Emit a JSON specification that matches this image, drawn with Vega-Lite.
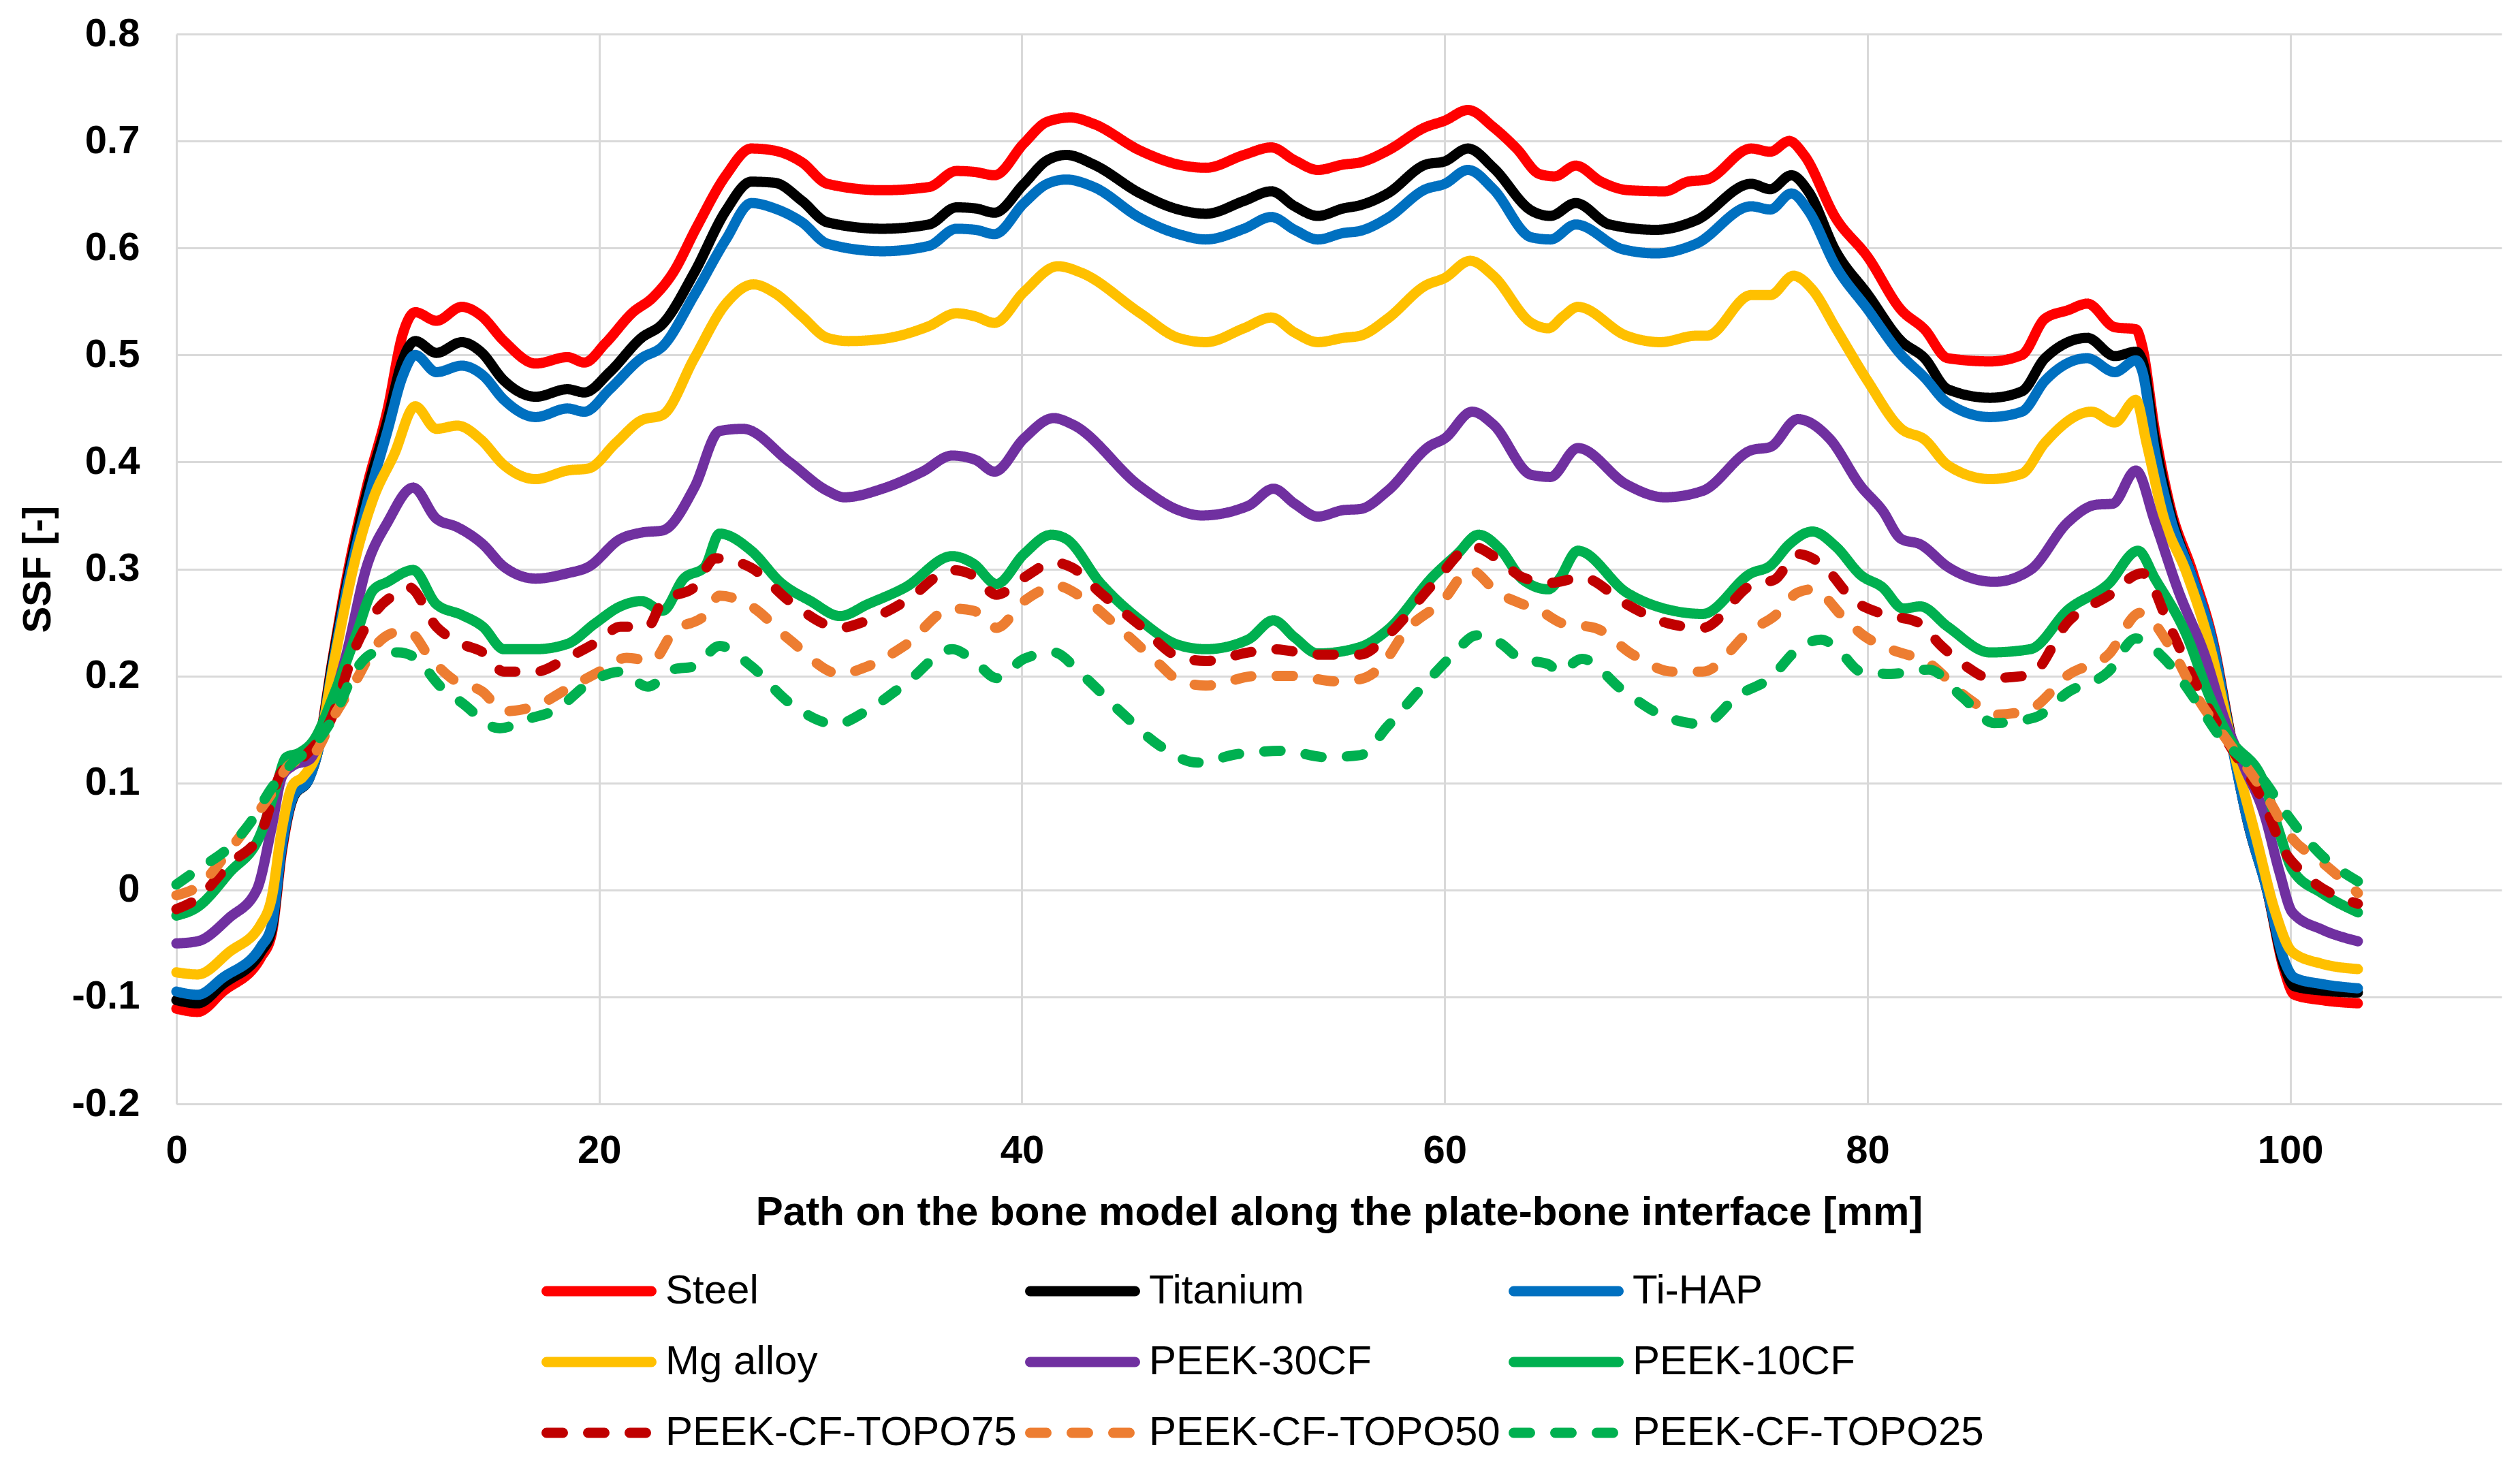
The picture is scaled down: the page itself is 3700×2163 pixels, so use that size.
{
"$schema": "https://vega.github.io/schema/vega-lite/v6.json",
"width": 3414,
"height": 1571,
"autosize": {"type": "none"},
"padding": {"left": 259, "top": 50, "right": 27, "bottom": 542},
"background": "white",
"config": {"view": {"stroke": null}, "font": "Liberation Sans"},
"data": {"values": [
{"s":"Steel","x":0,"y":-0.111},{"s":"Steel","x":1,"y":-0.114},{"s":"Steel","x":2.2,"y":-0.095},{"s":"Steel","x":4,"y":-0.063},{"s":"Steel","x":4.5,"y":-0.042},{"s":"Steel","x":5,"y":0.037},{"s":"Steel","x":5.5,"y":0.085},{"s":"Steel","x":6.3,"y":0.106},{"s":"Steel","x":6.7,"y":0.132},{"s":"Steel","x":7.4,"y":0.217},{"s":"Steel","x":8.1,"y":0.296},{"s":"Steel","x":9,"y":0.376},{"s":"Steel","x":10,"y":0.45},{"s":"Steel","x":10.7,"y":0.519},{"s":"Steel","x":11.3,"y":0.54},{"s":"Steel","x":12.3,"y":0.532},{"s":"Steel","x":13.5,"y":0.545},{"s":"Steel","x":14.4,"y":0.537},{"s":"Steel","x":15.5,"y":0.513},{"s":"Steel","x":17,"y":0.492},{"s":"Steel","x":18.5,"y":0.498},{"s":"Steel","x":19.3,"y":0.493},{"s":"Steel","x":20.3,"y":0.511},{"s":"Steel","x":21.6,"y":0.54},{"s":"Steel","x":22.5,"y":0.553},{"s":"Steel","x":23.5,"y":0.577},{"s":"Steel","x":24.6,"y":0.619},{"s":"Steel","x":26,"y":0.668},{"s":"Steel","x":27.2,"y":0.693},{"s":"Steel","x":28.3,"y":0.691},{"s":"Steel","x":29.6,"y":0.68},{"s":"Steel","x":30.8,"y":0.66},{"s":"Steel","x":33.4,"y":0.654},{"s":"Steel","x":35.6,"y":0.657},{"s":"Steel","x":36.9,"y":0.672},{"s":"Steel","x":37.8,"y":0.671},{"s":"Steel","x":38.7,"y":0.668},{"s":"Steel","x":40.1,"y":0.698},{"s":"Steel","x":41.2,"y":0.718},{"s":"Steel","x":42.3,"y":0.722},{"s":"Steel","x":43.4,"y":0.716},{"s":"Steel","x":45.6,"y":0.691},{"s":"Steel","x":47.4,"y":0.678},{"s":"Steel","x":48.7,"y":0.675},{"s":"Steel","x":50.5,"y":0.687},{"s":"Steel","x":51.8,"y":0.694},{"s":"Steel","x":52.9,"y":0.682},{"s":"Steel","x":54,"y":0.673},{"s":"Steel","x":55.2,"y":0.678},{"s":"Steel","x":56,"y":0.68},{"s":"Steel","x":57.3,"y":0.691},{"s":"Steel","x":59.1,"y":0.713},{"s":"Steel","x":60,"y":0.719},{"s":"Steel","x":61.1,"y":0.729},{"s":"Steel","x":62.3,"y":0.713},{"s":"Steel","x":63.4,"y":0.693},{"s":"Steel","x":64.5,"y":0.669},{"s":"Steel","x":65.2,"y":0.667},{"s":"Steel","x":66.2,"y":0.677},{"s":"Steel","x":67.4,"y":0.662},{"s":"Steel","x":68.7,"y":0.654},{"s":"Steel","x":70.4,"y":0.653},{"s":"Steel","x":71.5,"y":0.662},{"s":"Steel","x":72.4,"y":0.664},{"s":"Steel","x":74.5,"y":0.693},{"s":"Steel","x":75.4,"y":0.69},{"s":"Steel","x":76.3,"y":0.7},{"s":"Steel","x":77,"y":0.687},{"s":"Steel","x":78.5,"y":0.628},{"s":"Steel","x":80,"y":0.592},{"s":"Steel","x":81.6,"y":0.542},{"s":"Steel","x":82.7,"y":0.524},{"s":"Steel","x":83.8,"y":0.497},{"s":"Steel","x":85.8,"y":0.494},{"s":"Steel","x":87.3,"y":0.5},{"s":"Steel","x":88.4,"y":0.534},{"s":"Steel","x":89.5,"y":0.542},{"s":"Steel","x":90.4,"y":0.548},{"s":"Steel","x":91.7,"y":0.526},{"s":"Steel","x":92.7,"y":0.524},{"s":"Steel","x":93,"y":0.508},{"s":"Steel","x":93.6,"y":0.429},{"s":"Steel","x":94.3,"y":0.36},{"s":"Steel","x":95.4,"y":0.296},{"s":"Steel","x":96.4,"y":0.228},{"s":"Steel","x":97.1,"y":0.153},{"s":"Steel","x":98,"y":0.063},{"s":"Steel","x":98.9,"y":0},{"s":"Steel","x":99.7,"y":-0.074},{"s":"Steel","x":100.2,"y":-0.098},{"s":"Steel","x":101.5,"y":-0.103},{"s":"Steel","x":103.2,"y":-0.106},
{"s":"Titanium","x":0,"y":-0.103},{"s":"Titanium","x":1,"y":-0.106},{"s":"Titanium","x":2.2,"y":-0.088},{"s":"Titanium","x":4,"y":-0.058},{"s":"Titanium","x":4.5,"y":-0.038},{"s":"Titanium","x":5,"y":0.04},{"s":"Titanium","x":5.5,"y":0.085},{"s":"Titanium","x":6.3,"y":0.105},{"s":"Titanium","x":6.7,"y":0.13},{"s":"Titanium","x":7.4,"y":0.215},{"s":"Titanium","x":8.1,"y":0.29},{"s":"Titanium","x":9,"y":0.37},{"s":"Titanium","x":10,"y":0.44},{"s":"Titanium","x":10.7,"y":0.495},{"s":"Titanium","x":11.3,"y":0.513},{"s":"Titanium","x":12.3,"y":0.502},{"s":"Titanium","x":13.5,"y":0.512},{"s":"Titanium","x":14.4,"y":0.503},{"s":"Titanium","x":15.5,"y":0.476},{"s":"Titanium","x":17,"y":0.461},{"s":"Titanium","x":18.5,"y":0.468},{"s":"Titanium","x":19.3,"y":0.465},{"s":"Titanium","x":20.5,"y":0.484},{"s":"Titanium","x":22,"y":0.516},{"s":"Titanium","x":23,"y":0.529},{"s":"Titanium","x":24.5,"y":0.577},{"s":"Titanium","x":26,"y":0.635},{"s":"Titanium","x":27.2,"y":0.662},{"s":"Titanium","x":28.3,"y":0.661},{"s":"Titanium","x":29.6,"y":0.644},{"s":"Titanium","x":30.8,"y":0.624},{"s":"Titanium","x":33.4,"y":0.618},{"s":"Titanium","x":35.6,"y":0.622},{"s":"Titanium","x":36.9,"y":0.638},{"s":"Titanium","x":37.8,"y":0.637},{"s":"Titanium","x":38.7,"y":0.633},{"s":"Titanium","x":40.1,"y":0.66},{"s":"Titanium","x":41.2,"y":0.682},{"s":"Titanium","x":42.1,"y":0.687},{"s":"Titanium","x":43.4,"y":0.678},{"s":"Titanium","x":45.6,"y":0.651},{"s":"Titanium","x":47.4,"y":0.636},{"s":"Titanium","x":48.7,"y":0.632},{"s":"Titanium","x":50.5,"y":0.644},{"s":"Titanium","x":51.8,"y":0.653},{"s":"Titanium","x":52.9,"y":0.639},{"s":"Titanium","x":54,"y":0.63},{"s":"Titanium","x":55.2,"y":0.637},{"s":"Titanium","x":56,"y":0.64},{"s":"Titanium","x":57.3,"y":0.651},{"s":"Titanium","x":59.1,"y":0.678},{"s":"Titanium","x":60,"y":0.681},{"s":"Titanium","x":61.1,"y":0.693},{"s":"Titanium","x":62.3,"y":0.675},{"s":"Titanium","x":64.1,"y":0.635},{"s":"Titanium","x":65,"y":0.63},{"s":"Titanium","x":66.2,"y":0.642},{"s":"Titanium","x":67.8,"y":0.622},{"s":"Titanium","x":70,"y":0.617},{"s":"Titanium","x":71.9,"y":0.626},{"s":"Titanium","x":74.5,"y":0.66},{"s":"Titanium","x":75.4,"y":0.655},{"s":"Titanium","x":76.4,"y":0.668},{"s":"Titanium","x":77.2,"y":0.653},{"s":"Titanium","x":78.5,"y":0.597},{"s":"Titanium","x":80,"y":0.557},{"s":"Titanium","x":81.6,"y":0.513},{"s":"Titanium","x":82.7,"y":0.497},{"s":"Titanium","x":83.8,"y":0.468},{"s":"Titanium","x":85.8,"y":0.46},{"s":"Titanium","x":87.3,"y":0.466},{"s":"Titanium","x":88.4,"y":0.497},{"s":"Titanium","x":90.4,"y":0.516},{"s":"Titanium","x":91.7,"y":0.499},{"s":"Titanium","x":92.7,"y":0.503},{"s":"Titanium","x":93,"y":0.495},{"s":"Titanium","x":93.6,"y":0.42},{"s":"Titanium","x":94.3,"y":0.355},{"s":"Titanium","x":95.4,"y":0.29},{"s":"Titanium","x":96.4,"y":0.225},{"s":"Titanium","x":97.1,"y":0.152},{"s":"Titanium","x":98,"y":0.063},{"s":"Titanium","x":98.9,"y":0},{"s":"Titanium","x":99.7,"y":-0.07},{"s":"Titanium","x":100.2,"y":-0.09},{"s":"Titanium","x":101.5,"y":-0.094},{"s":"Titanium","x":103.2,"y":-0.096},
{"s":"Ti-HAP","x":0,"y":-0.095},{"s":"Ti-HAP","x":1,"y":-0.098},{"s":"Ti-HAP","x":2.2,"y":-0.082},{"s":"Ti-HAP","x":4,"y":-0.053},{"s":"Ti-HAP","x":4.5,"y":-0.034},{"s":"Ti-HAP","x":5,"y":0.042},{"s":"Ti-HAP","x":5.5,"y":0.086},{"s":"Ti-HAP","x":6.3,"y":0.105},{"s":"Ti-HAP","x":6.7,"y":0.13},{"s":"Ti-HAP","x":7.4,"y":0.21},{"s":"Ti-HAP","x":8.1,"y":0.285},{"s":"Ti-HAP","x":9,"y":0.36},{"s":"Ti-HAP","x":10,"y":0.43},{"s":"Ti-HAP","x":10.7,"y":0.48},{"s":"Ti-HAP","x":11.3,"y":0.5},{"s":"Ti-HAP","x":12.3,"y":0.484},{"s":"Ti-HAP","x":13.5,"y":0.49},{"s":"Ti-HAP","x":14.5,"y":0.481},{"s":"Ti-HAP","x":15.5,"y":0.458},{"s":"Ti-HAP","x":17,"y":0.442},{"s":"Ti-HAP","x":18.5,"y":0.45},{"s":"Ti-HAP","x":19.3,"y":0.447},{"s":"Ti-HAP","x":20.5,"y":0.468},{"s":"Ti-HAP","x":22,"y":0.497},{"s":"Ti-HAP","x":23,"y":0.508},{"s":"Ti-HAP","x":24.5,"y":0.556},{"s":"Ti-HAP","x":26,"y":0.608},{"s":"Ti-HAP","x":27.2,"y":0.642},{"s":"Ti-HAP","x":28.3,"y":0.637},{"s":"Ti-HAP","x":29.6,"y":0.624},{"s":"Ti-HAP","x":30.8,"y":0.604},{"s":"Ti-HAP","x":33.4,"y":0.597},{"s":"Ti-HAP","x":35.6,"y":0.602},{"s":"Ti-HAP","x":36.9,"y":0.618},{"s":"Ti-HAP","x":37.8,"y":0.617},{"s":"Ti-HAP","x":38.7,"y":0.613},{"s":"Ti-HAP","x":40.1,"y":0.642},{"s":"Ti-HAP","x":41.2,"y":0.66},{"s":"Ti-HAP","x":42.1,"y":0.664},{"s":"Ti-HAP","x":43.4,"y":0.657},{"s":"Ti-HAP","x":45.6,"y":0.628},{"s":"Ti-HAP","x":47.4,"y":0.613},{"s":"Ti-HAP","x":48.7,"y":0.608},{"s":"Ti-HAP","x":50.5,"y":0.618},{"s":"Ti-HAP","x":51.8,"y":0.629},{"s":"Ti-HAP","x":52.9,"y":0.617},{"s":"Ti-HAP","x":54,"y":0.608},{"s":"Ti-HAP","x":55.2,"y":0.614},{"s":"Ti-HAP","x":56,"y":0.616},{"s":"Ti-HAP","x":57.3,"y":0.628},{"s":"Ti-HAP","x":59.1,"y":0.655},{"s":"Ti-HAP","x":60,"y":0.66},{"s":"Ti-HAP","x":61.1,"y":0.673},{"s":"Ti-HAP","x":62.3,"y":0.655},{"s":"Ti-HAP","x":64.1,"y":0.61},{"s":"Ti-HAP","x":65,"y":0.608},{"s":"Ti-HAP","x":66.2,"y":0.622},{"s":"Ti-HAP","x":68.4,"y":0.599},{"s":"Ti-HAP","x":70,"y":0.595},{"s":"Ti-HAP","x":71.9,"y":0.604},{"s":"Ti-HAP","x":74.5,"y":0.639},{"s":"Ti-HAP","x":75.4,"y":0.636},{"s":"Ti-HAP","x":76.4,"y":0.651},{"s":"Ti-HAP","x":77.2,"y":0.635},{"s":"Ti-HAP","x":78.5,"y":0.583},{"s":"Ti-HAP","x":80,"y":0.543},{"s":"Ti-HAP","x":81.6,"y":0.5},{"s":"Ti-HAP","x":82.7,"y":0.479},{"s":"Ti-HAP","x":83.8,"y":0.455},{"s":"Ti-HAP","x":85.8,"y":0.442},{"s":"Ti-HAP","x":87.3,"y":0.447},{"s":"Ti-HAP","x":88.4,"y":0.476},{"s":"Ti-HAP","x":90.4,"y":0.497},{"s":"Ti-HAP","x":91.7,"y":0.484},{"s":"Ti-HAP","x":92.7,"y":0.495},{"s":"Ti-HAP","x":93,"y":0.485},{"s":"Ti-HAP","x":93.6,"y":0.41},{"s":"Ti-HAP","x":94.3,"y":0.35},{"s":"Ti-HAP","x":95.4,"y":0.29},{"s":"Ti-HAP","x":96.4,"y":0.225},{"s":"Ti-HAP","x":97.1,"y":0.15},{"s":"Ti-HAP","x":98,"y":0.063},{"s":"Ti-HAP","x":98.9,"y":0},{"s":"Ti-HAP","x":99.7,"y":-0.065},{"s":"Ti-HAP","x":100.2,"y":-0.082},{"s":"Ti-HAP","x":101.5,"y":-0.088},{"s":"Ti-HAP","x":103.2,"y":-0.092},
{"s":"Mg alloy","x":0,"y":-0.077},{"s":"Mg alloy","x":1,"y":-0.079},{"s":"Mg alloy","x":2.5,"y":-0.058},{"s":"Mg alloy","x":4,"y":-0.032},{"s":"Mg alloy","x":4.5,"y":-0.008},{"s":"Mg alloy","x":5,"y":0.058},{"s":"Mg alloy","x":5.5,"y":0.098},{"s":"Mg alloy","x":6,"y":0.106},{"s":"Mg alloy","x":6.7,"y":0.132},{"s":"Mg alloy","x":7.5,"y":0.217},{"s":"Mg alloy","x":8.5,"y":0.312},{"s":"Mg alloy","x":9.3,"y":0.365},{"s":"Mg alloy","x":10.3,"y":0.407},{"s":"Mg alloy","x":11.3,"y":0.452},{"s":"Mg alloy","x":12.3,"y":0.431},{"s":"Mg alloy","x":13.3,"y":0.434},{"s":"Mg alloy","x":14.4,"y":0.421},{"s":"Mg alloy","x":15.5,"y":0.397},{"s":"Mg alloy","x":17,"y":0.384},{"s":"Mg alloy","x":18.5,"y":0.392},{"s":"Mg alloy","x":19.5,"y":0.394},{"s":"Mg alloy","x":20.8,"y":0.418},{"s":"Mg alloy","x":22,"y":0.439},{"s":"Mg alloy","x":23,"y":0.444},{"s":"Mg alloy","x":24.5,"y":0.497},{"s":"Mg alloy","x":26,"y":0.548},{"s":"Mg alloy","x":27.3,"y":0.566},{"s":"Mg alloy","x":28.3,"y":0.558},{"s":"Mg alloy","x":29.6,"y":0.536},{"s":"Mg alloy","x":30.8,"y":0.516},{"s":"Mg alloy","x":31.8,"y":0.513},{"s":"Mg alloy","x":33.4,"y":0.515},{"s":"Mg alloy","x":35.6,"y":0.527},{"s":"Mg alloy","x":36.9,"y":0.539},{"s":"Mg alloy","x":37.8,"y":0.536},{"s":"Mg alloy","x":38.7,"y":0.53},{"s":"Mg alloy","x":40.1,"y":0.559},{"s":"Mg alloy","x":41.7,"y":0.583},{"s":"Mg alloy","x":42.8,"y":0.577},{"s":"Mg alloy","x":45.6,"y":0.539},{"s":"Mg alloy","x":47.4,"y":0.516},{"s":"Mg alloy","x":48.7,"y":0.512},{"s":"Mg alloy","x":50.5,"y":0.525},{"s":"Mg alloy","x":51.8,"y":0.535},{"s":"Mg alloy","x":52.9,"y":0.521},{"s":"Mg alloy","x":54,"y":0.512},{"s":"Mg alloy","x":55.2,"y":0.516},{"s":"Mg alloy","x":56,"y":0.518},{"s":"Mg alloy","x":57.3,"y":0.534},{"s":"Mg alloy","x":59.1,"y":0.565},{"s":"Mg alloy","x":60,"y":0.572},{"s":"Mg alloy","x":61.2,"y":0.588},{"s":"Mg alloy","x":62.3,"y":0.574},{"s":"Mg alloy","x":64.1,"y":0.53},{"s":"Mg alloy","x":64.9,"y":0.525},{"s":"Mg alloy","x":65.6,"y":0.536},{"s":"Mg alloy","x":66.3,"y":0.545},{"s":"Mg alloy","x":68.6,"y":0.518},{"s":"Mg alloy","x":70.2,"y":0.512},{"s":"Mg alloy","x":71.9,"y":0.518},{"s":"Mg alloy","x":72.4,"y":0.518},{"s":"Mg alloy","x":74.5,"y":0.556},{"s":"Mg alloy","x":75.4,"y":0.556},{"s":"Mg alloy","x":76.5,"y":0.574},{"s":"Mg alloy","x":77.4,"y":0.561},{"s":"Mg alloy","x":78.5,"y":0.525},{"s":"Mg alloy","x":80,"y":0.476},{"s":"Mg alloy","x":81.6,"y":0.431},{"s":"Mg alloy","x":82.7,"y":0.421},{"s":"Mg alloy","x":83.8,"y":0.397},{"s":"Mg alloy","x":85.8,"y":0.384},{"s":"Mg alloy","x":87.3,"y":0.389},{"s":"Mg alloy","x":88.4,"y":0.418},{"s":"Mg alloy","x":90.6,"y":0.447},{"s":"Mg alloy","x":91.7,"y":0.437},{"s":"Mg alloy","x":92.7,"y":0.458},{"s":"Mg alloy","x":93.2,"y":0.418},{"s":"Mg alloy","x":94,"y":0.349},{"s":"Mg alloy","x":95.1,"y":0.296},{"s":"Mg alloy","x":96.2,"y":0.228},{"s":"Mg alloy","x":97.3,"y":0.132},{"s":"Mg alloy","x":98.4,"y":0.048},{"s":"Mg alloy","x":99.3,"y":-0.021},{"s":"Mg alloy","x":100.1,"y":-0.058},{"s":"Mg alloy","x":101.5,"y":-0.069},{"s":"Mg alloy","x":103.2,"y":-0.074},
{"s":"PEEK-30CF","x":0,"y":-0.05},{"s":"PEEK-30CF","x":1,"y":-0.048},{"s":"PEEK-30CF","x":2.5,"y":-0.026},{"s":"PEEK-30CF","x":3.8,"y":0},{"s":"PEEK-30CF","x":4.5,"y":0.058},{"s":"PEEK-30CF","x":5,"y":0.106},{"s":"PEEK-30CF","x":5.5,"y":0.116},{"s":"PEEK-30CF","x":6.3,"y":0.122},{"s":"PEEK-30CF","x":7,"y":0.153},{"s":"PEEK-30CF","x":8,"y":0.217},{"s":"PEEK-30CF","x":9,"y":0.302},{"s":"PEEK-30CF","x":10,"y":0.344},{"s":"PEEK-30CF","x":11.2,"y":0.376},{"s":"PEEK-30CF","x":12.3,"y":0.347},{"s":"PEEK-30CF","x":13.3,"y":0.339},{"s":"PEEK-30CF","x":14.5,"y":0.323},{"s":"PEEK-30CF","x":15.5,"y":0.302},{"s":"PEEK-30CF","x":17,"y":0.291},{"s":"PEEK-30CF","x":18.5,"y":0.296},{"s":"PEEK-30CF","x":19.5,"y":0.302},{"s":"PEEK-30CF","x":21,"y":0.328},{"s":"PEEK-30CF","x":22,"y":0.334},{"s":"PEEK-30CF","x":23,"y":0.336},{"s":"PEEK-30CF","x":24.5,"y":0.376},{"s":"PEEK-30CF","x":25.7,"y":0.429},{"s":"PEEK-30CF","x":26.8,"y":0.431},{"s":"PEEK-30CF","x":29,"y":0.4},{"s":"PEEK-30CF","x":30.8,"y":0.373},{"s":"PEEK-30CF","x":31.6,"y":0.367},{"s":"PEEK-30CF","x":33.4,"y":0.375},{"s":"PEEK-30CF","x":35.3,"y":0.391},{"s":"PEEK-30CF","x":36.7,"y":0.406},{"s":"PEEK-30CF","x":37.8,"y":0.402},{"s":"PEEK-30CF","x":38.7,"y":0.391},{"s":"PEEK-30CF","x":40.1,"y":0.422},{"s":"PEEK-30CF","x":41.5,"y":0.441},{"s":"PEEK-30CF","x":42.4,"y":0.435},{"s":"PEEK-30CF","x":45.6,"y":0.377},{"s":"PEEK-30CF","x":47.4,"y":0.355},{"s":"PEEK-30CF","x":48.5,"y":0.35},{"s":"PEEK-30CF","x":50.7,"y":0.359},{"s":"PEEK-30CF","x":51.9,"y":0.375},{"s":"PEEK-30CF","x":52.9,"y":0.361},{"s":"PEEK-30CF","x":54,"y":0.349},{"s":"PEEK-30CF","x":55.2,"y":0.355},{"s":"PEEK-30CF","x":56,"y":0.356},{"s":"PEEK-30CF","x":57.3,"y":0.373},{"s":"PEEK-30CF","x":59.3,"y":0.415},{"s":"PEEK-30CF","x":60,"y":0.422},{"s":"PEEK-30CF","x":61.3,"y":0.447},{"s":"PEEK-30CF","x":62.3,"y":0.435},{"s":"PEEK-30CF","x":64.1,"y":0.388},{"s":"PEEK-30CF","x":65,"y":0.386},{"s":"PEEK-30CF","x":66.3,"y":0.413},{"s":"PEEK-30CF","x":68.6,"y":0.379},{"s":"PEEK-30CF","x":70.4,"y":0.367},{"s":"PEEK-30CF","x":72.2,"y":0.373},{"s":"PEEK-30CF","x":74.5,"y":0.411},{"s":"PEEK-30CF","x":75.4,"y":0.414},{"s":"PEEK-30CF","x":76.7,"y":0.44},{"s":"PEEK-30CF","x":78.2,"y":0.422},{"s":"PEEK-30CF","x":79.7,"y":0.377},{"s":"PEEK-30CF","x":80.7,"y":0.355},{"s":"PEEK-30CF","x":81.6,"y":0.328},{"s":"PEEK-30CF","x":82.5,"y":0.323},{"s":"PEEK-30CF","x":83.8,"y":0.302},{"s":"PEEK-30CF","x":86,"y":0.288},{"s":"PEEK-30CF","x":87.7,"y":0.299},{"s":"PEEK-30CF","x":89.5,"y":0.344},{"s":"PEEK-30CF","x":90.8,"y":0.36},{"s":"PEEK-30CF","x":91.6,"y":0.361},{"s":"PEEK-30CF","x":92.7,"y":0.392},{"s":"PEEK-30CF","x":93.6,"y":0.344},{"s":"PEEK-30CF","x":94.7,"y":0.28},{"s":"PEEK-30CF","x":96,"y":0.217},{"s":"PEEK-30CF","x":96.9,"y":0.159},{"s":"PEEK-30CF","x":97.8,"y":0.116},{"s":"PEEK-30CF","x":98.8,"y":0.069},{"s":"PEEK-30CF","x":99.5,"y":0.016},{"s":"PEEK-30CF","x":100.1,"y":-0.021},{"s":"PEEK-30CF","x":101.5,"y":-0.037},{"s":"PEEK-30CF","x":103.2,"y":-0.048},
{"s":"PEEK-10CF","x":0,"y":-0.024},{"s":"PEEK-10CF","x":1,"y":-0.016},{"s":"PEEK-10CF","x":2.5,"y":0.016},{"s":"PEEK-10CF","x":4,"y":0.053},{"s":"PEEK-10CF","x":4.7,"y":0.095},{"s":"PEEK-10CF","x":5.2,"y":0.124},{"s":"PEEK-10CF","x":5.8,"y":0.128},{"s":"PEEK-10CF","x":6.5,"y":0.14},{"s":"PEEK-10CF","x":7.5,"y":0.185},{"s":"PEEK-10CF","x":8.5,"y":0.238},{"s":"PEEK-10CF","x":9.3,"y":0.28},{"s":"PEEK-10CF","x":10,"y":0.288},{"s":"PEEK-10CF","x":11.2,"y":0.299},{"s":"PEEK-10CF","x":12.3,"y":0.267},{"s":"PEEK-10CF","x":13.5,"y":0.257},{"s":"PEEK-10CF","x":14.5,"y":0.246},{"s":"PEEK-10CF","x":15.5,"y":0.225},{"s":"PEEK-10CF","x":17,"y":0.225},{"s":"PEEK-10CF","x":18.5,"y":0.23},{"s":"PEEK-10CF","x":19.8,"y":0.249},{"s":"PEEK-10CF","x":21,"y":0.265},{"s":"PEEK-10CF","x":22,"y":0.27},{"s":"PEEK-10CF","x":23,"y":0.261},{"s":"PEEK-10CF","x":24,"y":0.291},{"s":"PEEK-10CF","x":25,"y":0.302},{"s":"PEEK-10CF","x":25.7,"y":0.333},{"s":"PEEK-10CF","x":27.2,"y":0.317},{"s":"PEEK-10CF","x":28.6,"y":0.287},{"s":"PEEK-10CF","x":30,"y":0.27},{"s":"PEEK-10CF","x":31.4,"y":0.256},{"s":"PEEK-10CF","x":32.7,"y":0.267},{"s":"PEEK-10CF","x":34.5,"y":0.283},{"s":"PEEK-10CF","x":36.7,"y":0.312},{"s":"PEEK-10CF","x":37.7,"y":0.305},{"s":"PEEK-10CF","x":38.8,"y":0.286},{"s":"PEEK-10CF","x":40.1,"y":0.314},{"s":"PEEK-10CF","x":41.4,"y":0.332},{"s":"PEEK-10CF","x":42.1,"y":0.328},{"s":"PEEK-10CF","x":43.7,"y":0.287},{"s":"PEEK-10CF","x":45.6,"y":0.252},{"s":"PEEK-10CF","x":47.4,"y":0.229},{"s":"PEEK-10CF","x":48.7,"y":0.225},{"s":"PEEK-10CF","x":50.7,"y":0.234},{"s":"PEEK-10CF","x":51.9,"y":0.252},{"s":"PEEK-10CF","x":52.9,"y":0.236},{"s":"PEEK-10CF","x":54,"y":0.221},{"s":"PEEK-10CF","x":56,"y":0.227},{"s":"PEEK-10CF","x":57.3,"y":0.243},{"s":"PEEK-10CF","x":59.5,"y":0.294},{"s":"PEEK-10CF","x":60.6,"y":0.314},{"s":"PEEK-10CF","x":61.6,"y":0.332},{"s":"PEEK-10CF","x":62.6,"y":0.319},{"s":"PEEK-10CF","x":63.7,"y":0.29},{"s":"PEEK-10CF","x":64.9,"y":0.281},{"s":"PEEK-10CF","x":65.4,"y":0.29},{"s":"PEEK-10CF","x":66.3,"y":0.317},{"s":"PEEK-10CF","x":68.6,"y":0.278},{"s":"PEEK-10CF","x":70.8,"y":0.261},{"s":"PEEK-10CF","x":72.2,"y":0.258},{"s":"PEEK-10CF","x":74.5,"y":0.296},{"s":"PEEK-10CF","x":75.4,"y":0.303},{"s":"PEEK-10CF","x":76.3,"y":0.323},{"s":"PEEK-10CF","x":77.4,"y":0.335},{"s":"PEEK-10CF","x":78.5,"y":0.321},{"s":"PEEK-10CF","x":79.7,"y":0.294},{"s":"PEEK-10CF","x":80.7,"y":0.283},{"s":"PEEK-10CF","x":81.7,"y":0.263},{"s":"PEEK-10CF","x":82.5,"y":0.265},{"s":"PEEK-10CF","x":83.8,"y":0.246},{"s":"PEEK-10CF","x":85.8,"y":0.222},{"s":"PEEK-10CF","x":87.7,"y":0.225},{"s":"PEEK-10CF","x":89.5,"y":0.262},{"s":"PEEK-10CF","x":91.4,"y":0.286},{"s":"PEEK-10CF","x":92.8,"y":0.317},{"s":"PEEK-10CF","x":93.6,"y":0.291},{"s":"PEEK-10CF","x":95.1,"y":0.238},{"s":"PEEK-10CF","x":96.2,"y":0.18},{"s":"PEEK-10CF","x":97.1,"y":0.143},{"s":"PEEK-10CF","x":98.8,"y":0.098},{"s":"PEEK-10CF","x":99.5,"y":0.053},{"s":"PEEK-10CF","x":100.1,"y":0.019},{"s":"PEEK-10CF","x":101.5,"y":-0.003},{"s":"PEEK-10CF","x":103.2,"y":-0.021},
{"s":"PEEK-CF-TOPO75","x":0,"y":-0.018},{"s":"PEEK-CF-TOPO75","x":1,"y":-0.008},{"s":"PEEK-CF-TOPO75","x":2.5,"y":0.024},{"s":"PEEK-CF-TOPO75","x":4,"y":0.053},{"s":"PEEK-CF-TOPO75","x":5,"y":0.111},{"s":"PEEK-CF-TOPO75","x":6,"y":0.124},{"s":"PEEK-CF-TOPO75","x":7.3,"y":0.159},{"s":"PEEK-CF-TOPO75","x":8.5,"y":0.228},{"s":"PEEK-CF-TOPO75","x":9.5,"y":0.262},{"s":"PEEK-CF-TOPO75","x":10.5,"y":0.278},{"s":"PEEK-CF-TOPO75","x":11,"y":0.283},{"s":"PEEK-CF-TOPO75","x":12.3,"y":0.246},{"s":"PEEK-CF-TOPO75","x":13.5,"y":0.23},{"s":"PEEK-CF-TOPO75","x":14.5,"y":0.222},{"s":"PEEK-CF-TOPO75","x":15.5,"y":0.204},{"s":"PEEK-CF-TOPO75","x":17,"y":0.204},{"s":"PEEK-CF-TOPO75","x":18.5,"y":0.217},{"s":"PEEK-CF-TOPO75","x":20,"y":0.233},{"s":"PEEK-CF-TOPO75","x":21,"y":0.246},{"s":"PEEK-CF-TOPO75","x":22.3,"y":0.246},{"s":"PEEK-CF-TOPO75","x":23,"y":0.27},{"s":"PEEK-CF-TOPO75","x":24.5,"y":0.283},{"s":"PEEK-CF-TOPO75","x":25.5,"y":0.31},{"s":"PEEK-CF-TOPO75","x":27.2,"y":0.301},{"s":"PEEK-CF-TOPO75","x":29,"y":0.27},{"s":"PEEK-CF-TOPO75","x":31.4,"y":0.245},{"s":"PEEK-CF-TOPO75","x":32.7,"y":0.252},{"s":"PEEK-CF-TOPO75","x":34.5,"y":0.27},{"s":"PEEK-CF-TOPO75","x":36.7,"y":0.299},{"s":"PEEK-CF-TOPO75","x":37.7,"y":0.294},{"s":"PEEK-CF-TOPO75","x":38.8,"y":0.276},{"s":"PEEK-CF-TOPO75","x":40.1,"y":0.292},{"s":"PEEK-CF-TOPO75","x":41.5,"y":0.306},{"s":"PEEK-CF-TOPO75","x":42.4,"y":0.301},{"s":"PEEK-CF-TOPO75","x":43.7,"y":0.278},{"s":"PEEK-CF-TOPO75","x":45.6,"y":0.247},{"s":"PEEK-CF-TOPO75","x":47.4,"y":0.218},{"s":"PEEK-CF-TOPO75","x":48.7,"y":0.214},{"s":"PEEK-CF-TOPO75","x":50.7,"y":0.222},{"s":"PEEK-CF-TOPO75","x":51.9,"y":0.225},{"s":"PEEK-CF-TOPO75","x":54,"y":0.22},{"s":"PEEK-CF-TOPO75","x":56,"y":0.22},{"s":"PEEK-CF-TOPO75","x":57.3,"y":0.238},{"s":"PEEK-CF-TOPO75","x":59.5,"y":0.287},{"s":"PEEK-CF-TOPO75","x":61.3,"y":0.321},{"s":"PEEK-CF-TOPO75","x":62.6,"y":0.308},{"s":"PEEK-CF-TOPO75","x":63.7,"y":0.292},{"s":"PEEK-CF-TOPO75","x":65,"y":0.287},{"s":"PEEK-CF-TOPO75","x":66.5,"y":0.292},{"s":"PEEK-CF-TOPO75","x":68.6,"y":0.267},{"s":"PEEK-CF-TOPO75","x":70.6,"y":0.249},{"s":"PEEK-CF-TOPO75","x":72.2,"y":0.245},{"s":"PEEK-CF-TOPO75","x":74.5,"y":0.285},{"s":"PEEK-CF-TOPO75","x":75.6,"y":0.29},{"s":"PEEK-CF-TOPO75","x":76.7,"y":0.314},{"s":"PEEK-CF-TOPO75","x":77.8,"y":0.305},{"s":"PEEK-CF-TOPO75","x":79.4,"y":0.27},{"s":"PEEK-CF-TOPO75","x":80.7,"y":0.258},{"s":"PEEK-CF-TOPO75","x":82.4,"y":0.25},{"s":"PEEK-CF-TOPO75","x":83.5,"y":0.228},{"s":"PEEK-CF-TOPO75","x":84.6,"y":0.21},{"s":"PEEK-CF-TOPO75","x":85.8,"y":0.198},{"s":"PEEK-CF-TOPO75","x":87.7,"y":0.201},{"s":"PEEK-CF-TOPO75","x":89.5,"y":0.251},{"s":"PEEK-CF-TOPO75","x":91.4,"y":0.275},{"s":"PEEK-CF-TOPO75","x":93,"y":0.296},{"s":"PEEK-CF-TOPO75","x":94.3,"y":0.246},{"s":"PEEK-CF-TOPO75","x":95.6,"y":0.19},{"s":"PEEK-CF-TOPO75","x":96.9,"y":0.143},{"s":"PEEK-CF-TOPO75","x":98.8,"y":0.079},{"s":"PEEK-CF-TOPO75","x":99.7,"y":0.037},{"s":"PEEK-CF-TOPO75","x":100.6,"y":0.016},{"s":"PEEK-CF-TOPO75","x":103.2,"y":-0.013},
{"s":"PEEK-CF-TOPO50","x":0,"y":-0.005},{"s":"PEEK-CF-TOPO50","x":1,"y":0.003},{"s":"PEEK-CF-TOPO50","x":2.5,"y":0.037},{"s":"PEEK-CF-TOPO50","x":3.5,"y":0.063},{"s":"PEEK-CF-TOPO50","x":4.5,"y":0.09},{"s":"PEEK-CF-TOPO50","x":5.3,"y":0.116},{"s":"PEEK-CF-TOPO50","x":6.5,"y":0.127},{"s":"PEEK-CF-TOPO50","x":7.5,"y":0.164},{"s":"PEEK-CF-TOPO50","x":8.5,"y":0.196},{"s":"PEEK-CF-TOPO50","x":9.5,"y":0.23},{"s":"PEEK-CF-TOPO50","x":10.5,"y":0.241},{"s":"PEEK-CF-TOPO50","x":11,"y":0.241},{"s":"PEEK-CF-TOPO50","x":12,"y":0.217},{"s":"PEEK-CF-TOPO50","x":13,"y":0.198},{"s":"PEEK-CF-TOPO50","x":14.5,"y":0.185},{"s":"PEEK-CF-TOPO50","x":15.5,"y":0.167},{"s":"PEEK-CF-TOPO50","x":17,"y":0.172},{"s":"PEEK-CF-TOPO50","x":18.5,"y":0.188},{"s":"PEEK-CF-TOPO50","x":20,"y":0.204},{"s":"PEEK-CF-TOPO50","x":21.3,"y":0.217},{"s":"PEEK-CF-TOPO50","x":22.5,"y":0.214},{"s":"PEEK-CF-TOPO50","x":23.5,"y":0.241},{"s":"PEEK-CF-TOPO50","x":25,"y":0.257},{"s":"PEEK-CF-TOPO50","x":25.7,"y":0.275},{"s":"PEEK-CF-TOPO50","x":27.2,"y":0.265},{"s":"PEEK-CF-TOPO50","x":29,"y":0.234},{"s":"PEEK-CF-TOPO50","x":31.4,"y":0.202},{"s":"PEEK-CF-TOPO50","x":32.7,"y":0.209},{"s":"PEEK-CF-TOPO50","x":34.5,"y":0.229},{"s":"PEEK-CF-TOPO50","x":36.7,"y":0.263},{"s":"PEEK-CF-TOPO50","x":37.7,"y":0.261},{"s":"PEEK-CF-TOPO50","x":38.8,"y":0.245},{"s":"PEEK-CF-TOPO50","x":40.1,"y":0.27},{"s":"PEEK-CF-TOPO50","x":41.7,"y":0.284},{"s":"PEEK-CF-TOPO50","x":42.8,"y":0.274},{"s":"PEEK-CF-TOPO50","x":44.7,"y":0.243},{"s":"PEEK-CF-TOPO50","x":46.5,"y":0.211},{"s":"PEEK-CF-TOPO50","x":47.4,"y":0.196},{"s":"PEEK-CF-TOPO50","x":48.7,"y":0.191},{"s":"PEEK-CF-TOPO50","x":51.1,"y":0.2},{"s":"PEEK-CF-TOPO50","x":52.9,"y":0.2},{"s":"PEEK-CF-TOPO50","x":54.8,"y":0.195},{"s":"PEEK-CF-TOPO50","x":56,"y":0.197},{"s":"PEEK-CF-TOPO50","x":56.9,"y":0.207},{"s":"PEEK-CF-TOPO50","x":58.2,"y":0.243},{"s":"PEEK-CF-TOPO50","x":59.9,"y":0.27},{"s":"PEEK-CF-TOPO50","x":61.2,"y":0.299},{"s":"PEEK-CF-TOPO50","x":62.5,"y":0.278},{"s":"PEEK-CF-TOPO50","x":63.7,"y":0.267},{"s":"PEEK-CF-TOPO50","x":64.5,"y":0.261},{"s":"PEEK-CF-TOPO50","x":65.6,"y":0.249},{"s":"PEEK-CF-TOPO50","x":67.1,"y":0.245},{"s":"PEEK-CF-TOPO50","x":68.9,"y":0.22},{"s":"PEEK-CF-TOPO50","x":70.8,"y":0.204},{"s":"PEEK-CF-TOPO50","x":72.2,"y":0.204},{"s":"PEEK-CF-TOPO50","x":74.5,"y":0.243},{"s":"PEEK-CF-TOPO50","x":75.6,"y":0.256},{"s":"PEEK-CF-TOPO50","x":76.7,"y":0.278},{"s":"PEEK-CF-TOPO50","x":77.4,"y":0.281},{"s":"PEEK-CF-TOPO50","x":78.9,"y":0.254},{"s":"PEEK-CF-TOPO50","x":79.8,"y":0.238},{"s":"PEEK-CF-TOPO50","x":81.1,"y":0.225},{"s":"PEEK-CF-TOPO50","x":82.9,"y":0.212},{"s":"PEEK-CF-TOPO50","x":84.7,"y":0.18},{"s":"PEEK-CF-TOPO50","x":86.2,"y":0.164},{"s":"PEEK-CF-TOPO50","x":87.7,"y":0.169},{"s":"PEEK-CF-TOPO50","x":89.5,"y":0.201},{"s":"PEEK-CF-TOPO50","x":91.4,"y":0.22},{"s":"PEEK-CF-TOPO50","x":92.9,"y":0.259},{"s":"PEEK-CF-TOPO50","x":94.3,"y":0.228},{"s":"PEEK-CF-TOPO50","x":95.6,"y":0.18},{"s":"PEEK-CF-TOPO50","x":96.9,"y":0.143},{"s":"PEEK-CF-TOPO50","x":98.8,"y":0.09},{"s":"PEEK-CF-TOPO50","x":100.1,"y":0.048},{"s":"PEEK-CF-TOPO50","x":101.5,"y":0.026},{"s":"PEEK-CF-TOPO50","x":103.2,"y":-0.003},
{"s":"PEEK-CF-TOPO25","x":0,"y":0.005},{"s":"PEEK-CF-TOPO25","x":1,"y":0.019},{"s":"PEEK-CF-TOPO25","x":2.5,"y":0.04},{"s":"PEEK-CF-TOPO25","x":3.5,"y":0.063},{"s":"PEEK-CF-TOPO25","x":4.5,"y":0.095},{"s":"PEEK-CF-TOPO25","x":5.5,"y":0.119},{"s":"PEEK-CF-TOPO25","x":6.5,"y":0.135},{"s":"PEEK-CF-TOPO25","x":7.5,"y":0.164},{"s":"PEEK-CF-TOPO25","x":8.5,"y":0.206},{"s":"PEEK-CF-TOPO25","x":9.5,"y":0.222},{"s":"PEEK-CF-TOPO25","x":10.5,"y":0.222},{"s":"PEEK-CF-TOPO25","x":11.3,"y":0.217},{"s":"PEEK-CF-TOPO25","x":12.5,"y":0.19},{"s":"PEEK-CF-TOPO25","x":13.5,"y":0.175},{"s":"PEEK-CF-TOPO25","x":15.3,"y":0.151},{"s":"PEEK-CF-TOPO25","x":16.5,"y":0.159},{"s":"PEEK-CF-TOPO25","x":18,"y":0.169},{"s":"PEEK-CF-TOPO25","x":19.5,"y":0.193},{"s":"PEEK-CF-TOPO25","x":21,"y":0.204},{"s":"PEEK-CF-TOPO25","x":22.3,"y":0.19},{"s":"PEEK-CF-TOPO25","x":23.5,"y":0.206},{"s":"PEEK-CF-TOPO25","x":24.5,"y":0.209},{"s":"PEEK-CF-TOPO25","x":25.7,"y":0.228},{"s":"PEEK-CF-TOPO25","x":27.2,"y":0.209},{"s":"PEEK-CF-TOPO25","x":29,"y":0.175},{"s":"PEEK-CF-TOPO25","x":31.2,"y":0.155},{"s":"PEEK-CF-TOPO25","x":32.7,"y":0.168},{"s":"PEEK-CF-TOPO25","x":34.5,"y":0.193},{"s":"PEEK-CF-TOPO25","x":36.7,"y":0.225},{"s":"PEEK-CF-TOPO25","x":37.8,"y":0.213},{"s":"PEEK-CF-TOPO25","x":38.8,"y":0.198},{"s":"PEEK-CF-TOPO25","x":40.1,"y":0.216},{"s":"PEEK-CF-TOPO25","x":41.5,"y":0.222},{"s":"PEEK-CF-TOPO25","x":42.8,"y":0.202},{"s":"PEEK-CF-TOPO25","x":44.7,"y":0.166},{"s":"PEEK-CF-TOPO25","x":46.5,"y":0.135},{"s":"PEEK-CF-TOPO25","x":48.3,"y":0.119},{"s":"PEEK-CF-TOPO25","x":50.2,"y":0.127},{"s":"PEEK-CF-TOPO25","x":52.4,"y":0.13},{"s":"PEEK-CF-TOPO25","x":54.4,"y":0.124},{"s":"PEEK-CF-TOPO25","x":56,"y":0.126},{"s":"PEEK-CF-TOPO25","x":57.3,"y":0.153},{"s":"PEEK-CF-TOPO25","x":59,"y":0.191},{"s":"PEEK-CF-TOPO25","x":60.4,"y":0.22},{"s":"PEEK-CF-TOPO25","x":61.5,"y":0.238},{"s":"PEEK-CF-TOPO25","x":62.6,"y":0.231},{"s":"PEEK-CF-TOPO25","x":63.6,"y":0.216},{"s":"PEEK-CF-TOPO25","x":64.9,"y":0.211},{"s":"PEEK-CF-TOPO25","x":65.4,"y":0.204},{"s":"PEEK-CF-TOPO25","x":66.5,"y":0.216},{"s":"PEEK-CF-TOPO25","x":68.4,"y":0.187},{"s":"PEEK-CF-TOPO25","x":70.2,"y":0.164},{"s":"PEEK-CF-TOPO25","x":72.2,"y":0.155},{"s":"PEEK-CF-TOPO25","x":73.9,"y":0.182},{"s":"PEEK-CF-TOPO25","x":75.4,"y":0.198},{"s":"PEEK-CF-TOPO25","x":76.7,"y":0.225},{"s":"PEEK-CF-TOPO25","x":77.8,"y":0.234},{"s":"PEEK-CF-TOPO25","x":78.5,"y":0.227},{"s":"PEEK-CF-TOPO25","x":79.7,"y":0.204},{"s":"PEEK-CF-TOPO25","x":81.1,"y":0.202},{"s":"PEEK-CF-TOPO25","x":82.9,"y":0.206},{"s":"PEEK-CF-TOPO25","x":84.5,"y":0.18},{"s":"PEEK-CF-TOPO25","x":86,"y":0.156},{"s":"PEEK-CF-TOPO25","x":87.9,"y":0.161},{"s":"PEEK-CF-TOPO25","x":89.5,"y":0.185},{"s":"PEEK-CF-TOPO25","x":91.4,"y":0.204},{"s":"PEEK-CF-TOPO25","x":92.7,"y":0.235},{"s":"PEEK-CF-TOPO25","x":94,"y":0.217},{"s":"PEEK-CF-TOPO25","x":95.6,"y":0.175},{"s":"PEEK-CF-TOPO25","x":96.5,"y":0.148},{"s":"PEEK-CF-TOPO25","x":98.8,"y":0.101},{"s":"PEEK-CF-TOPO25","x":99.9,"y":0.069},{"s":"PEEK-CF-TOPO25","x":101.5,"y":0.032},{"s":"PEEK-CF-TOPO25","x":103.2,"y":0.008}
]},
"mark": {"type": "line", "interpolate": "monotone", "strokeCap": "round", "strokeJoin": "round"},
"encoding": {
  "x": {"field": "x", "type": "quantitative",
    "scale": {"domain": [0, 110], "nice": false, "zero": false},
    "axis": {"title": "Path on the bone model along the plate-bone interface [mm]",
      "values": [0, 20, 40, 60, 80, 100], "grid": true, "gridColor": "#d9d9d9", "gridWidth": 3,
      "domain": false, "ticks": false, "labelFlush": false,
      "labelFont": "Liberation Sans", "labelFontWeight": "bold", "labelFontSize": 58, "labelColor": "#000000", "labelPadding": 40,
      "titleFont": "Liberation Sans", "titleFontWeight": "bold", "titleFontSize": 60, "titleColor": "#000000", "titlePadding": 32}},
  "y": {"field": "y", "type": "quantitative",
    "scale": {"domain": [-0.2, 0.8], "nice": false, "zero": false},
    "axis": {"title": "SSF [-]",
      "values": [-0.2, -0.1, 0, 0.1, 0.2, 0.3, 0.4, 0.5, 0.6, 0.7, 0.8],
      "labelExpr": "datum.value < 0 ? '-' + format(-datum.value, '.1~f') : format(datum.value, '.1~f')",
      "grid": true, "gridColor": "#d9d9d9", "gridWidth": 3, "domain": false, "ticks": false, "labelFlush": false,
      "labelFont": "Liberation Sans", "labelFontWeight": "bold", "labelFontSize": 58, "labelColor": "#000000", "labelPadding": 54,
      "titleFont": "Liberation Sans", "titleFontWeight": "bold", "titleFontSize": 58, "titleColor": "#000000", "titlePadding": 20}},
  "color": {"field": "s", "type": "nominal",
    "scale": {"domain": ["Steel", "Titanium", "Ti-HAP", "Mg alloy", "PEEK-30CF", "PEEK-10CF", "PEEK-CF-TOPO75", "PEEK-CF-TOPO50", "PEEK-CF-TOPO25"],
      "range": ["#ff0000", "#000000", "#0070c0", "#ffc000", "#7030a0", "#00b050", "#c00000", "#ed7d31", "#00b050"]},
    "legend": {"title": null, "orient": "none", "direction": "horizontal", "legendX": 536, "legendY": 1814, "columns": 3,
      "symbolType": "stroke", "symbolSize": 23716, "clipHeight": 64, "rowPadding": 40, "columnPadding": 12,
      "labelOffset": 13, "labelFont": "Liberation Sans", "labelFontSize": 60, "labelColor": "#000000", "labelLimit": 0,
      "labelBaseline": "middle", "padding": 0, "offset": 0,
      "encode": {"symbols": {"update": {"strokeCap": {"value": "round"}}}}}},
  "strokeDash": {"field": "s", "type": "nominal",
    "scale": {"domain": ["Steel", "Titanium", "Ti-HAP", "Mg alloy", "PEEK-30CF", "PEEK-10CF", "PEEK-CF-TOPO75", "PEEK-CF-TOPO50", "PEEK-CF-TOPO25"],
      "range": [[1, 0], [1, 0], [1, 0], [1, 0], [1, 0], [1, 0], [24, 37], [24, 37], [24, 37]]}},
  "strokeWidth": {"field": "s", "type": "nominal",
    "scale": {"domain": ["Steel", "Titanium", "Ti-HAP", "Mg alloy", "PEEK-30CF", "PEEK-10CF", "PEEK-CF-TOPO75", "PEEK-CF-TOPO50", "PEEK-CF-TOPO25"],
      "range": [15, 15, 15, 15, 15, 15, 7, 7, 7]}}
}
}
